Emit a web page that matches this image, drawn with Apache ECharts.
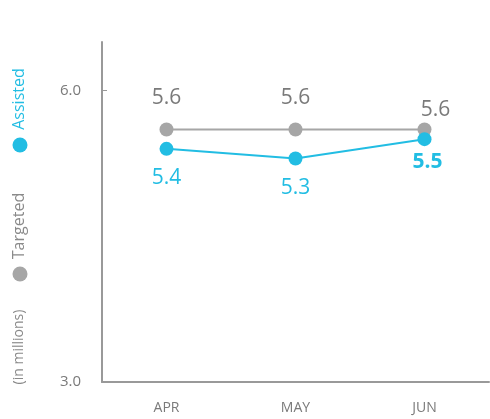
<!DOCTYPE html>
<html>
<head>
<meta charset="utf-8">
<script src="https://cdn.jsdelivr.net/npm/echarts@6/dist/echarts.min.js"></script>
<style>
  html, body { margin: 0; padding: 0; background: #fff; }
  #chart { width: 490px; height: 419px; }
</style>
</head>
<body>
<div id="chart"></div>
<script>
var months = ['APR', 'MAY', 'JUN'];
var targeted = [5.6, 5.6, 5.6];
var assisted = [5.4, 5.3, 5.5];
var yTicks = [3, 6];

var blue = '#22bde3';
var grey = '#a6a6a6';
var textGrey = '#7a7a7a';
var font = '"Open Sans", "Noto Sans", sans-serif';

var myChart = echarts.init(document.getElementById('chart'));

// label tweaks per point (JUN labels sit closer to the overlapping dots)
var targetedData = targeted.map(function (v, i) {
    var d = { value: v };
    if (i === 2) d.label = { distance: 2, offset: [11, 0] };
    return d;
});
var assistedData = assisted.map(function (v, i) {
    var d = { value: v };
    if (i === 2) d.label = { distance: 5, offset: [3, 0], fontWeight: 'bold' };
    return d;
});

var option = {
    animation: false,
    grid: { left: 102, right: 1, top: 42, bottom: 37 },
    xAxis: {
        type: 'category',
        data: months,
        boundaryGap: true,
        axisLine: { lineStyle: { color: '#999', width: 2 } },
        axisTick: { inside: true, length: 5, lineStyle: { color: '#999', width: 2 } },
        axisLabel: { color: textGrey, fontSize: 14, fontFamily: font, margin: 19 }
    },
    yAxis: {
        type: 'value',
        min: 3,
        max: 6.5,
        splitLine: { show: false },
        axisLine: { show: true, lineStyle: { color: '#999', width: 2 } },
        axisTick: { show: true, inside: true, length: 5, customValues: yTicks, lineStyle: { color: '#999' } },
        axisLabel: {
            color: textGrey, fontSize: 15, fontFamily: font, margin: 21,
            customValues: yTicks,
            formatter: function (v) { return v.toFixed(1); }
        }
    },
    series: [
        {
            name: 'Targeted',
            type: 'line',
            data: targetedData,
            symbol: 'circle',
            symbolSize: 14,
            itemStyle: { color: grey },
            lineStyle: { color: grey, width: 2 },
            label: {
                show: true, position: 'top', distance: 14,
                color: textGrey, fontSize: 21, fontFamily: font,
                formatter: function (p) { return p.value.toFixed(1); }
            },
            z: 2
        },
        {
            name: 'Assisted',
            type: 'line',
            data: assistedData,
            symbol: 'circle',
            symbolSize: 14,
            itemStyle: { color: blue },
            lineStyle: { color: blue, width: 2 },
            label: {
                show: true, position: 'bottom', distance: 12,
                color: blue, fontSize: 21, fontFamily: font,
                formatter: function (p) { return p.value.toFixed(1); }
            },
            z: 3
        }
    ],
    graphic: [
        { type: 'text', x: 19, y: 99, rotation: Math.PI / 2,
          style: { text: 'Assisted', fill: blue, font: '16px ' + font, align: 'center', verticalAlign: 'middle' } },
        { type: 'circle', shape: { cx: 20, cy: 145, r: 7.5 }, style: { fill: blue } },
        { type: 'text', x: 19, y: 226, rotation: Math.PI / 2,
          style: { text: 'Targeted', fill: '#8a8a8a', font: '16px ' + font, align: 'center', verticalAlign: 'middle' } },
        { type: 'circle', shape: { cx: 20, cy: 274, r: 7.5 }, style: { fill: grey } },
        { type: 'text', x: 19, y: 347, rotation: Math.PI / 2,
          style: { text: '(in millions)', fill: '#8a8a8a', font: '14px ' + font, align: 'center', verticalAlign: 'middle' } }
    ]
};

myChart.setOption(option);
</script>
</body>
</html>
